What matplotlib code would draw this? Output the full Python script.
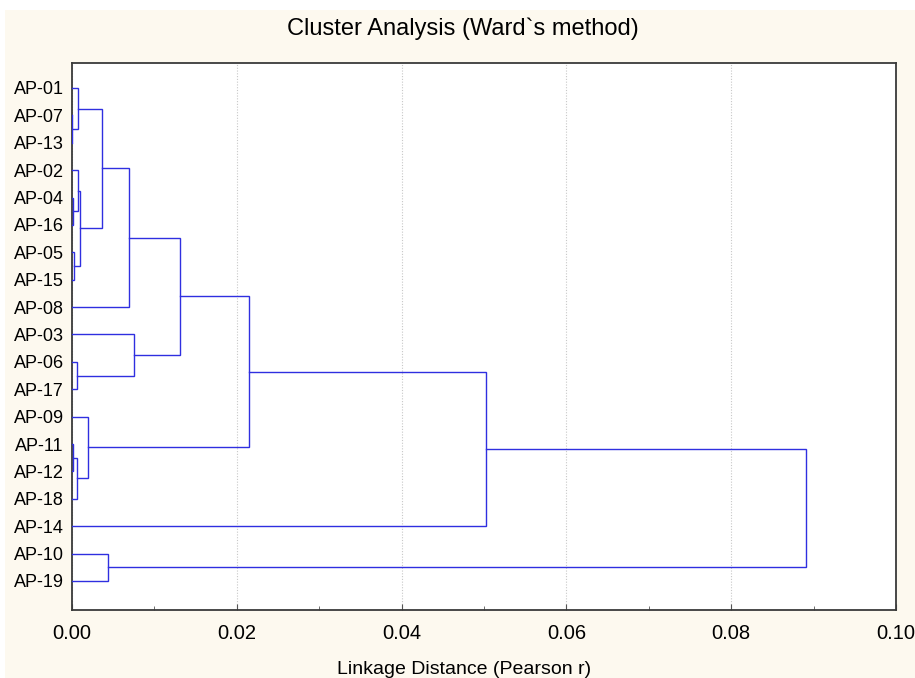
import matplotlib.pyplot as plt
import numpy as np
from matplotlib.patches import Rectangle

# leaves, top to bottom
labels = ["AP-01", "AP-07", "AP-13", "AP-02", "AP-04", "AP-16", "AP-05", "AP-15",
          "AP-08", "AP-03", "AP-06", "AP-17", "AP-09", "AP-11", "AP-12", "AP-18",
          "AP-14", "AP-10", "AP-19"]

# merges, scipy style: new cluster id = len(labels) + row index
merge_a = [1, 4, 6, 13, 10, 0, 3, 22, 25, 12, 24, 17, 29, 9, 31, 33, 34, 35]
merge_b = [2, 5, 7, 14, 11, 19, 20, 15, 21, 26, 27, 18, 8, 23, 32, 28, 16, 30]
merge_h = [0.00005, 0.00008, 0.0002, 0.0001, 0.0006, 0.0007, 0.0007, 0.0006,
           0.001, 0.0019, 0.0036, 0.0044, 0.0069, 0.0075, 0.0131, 0.0215,
           0.0502, 0.0891]

BG = "#fdf9ef"
LINE = "#2f2fe0"

plt.rcParams["font.family"] = ["Liberation Sans", "DejaVu Sans"]

fig = plt.figure(figsize=(9.15, 6.78), dpi=100, facecolor="white")
# cream panel with a thin white margin at top and left
fig.patches.append(Rectangle((5 / 915, 0), 1, 1 - 10 / 678, transform=fig.transFigure,
                             facecolor=BG, edgecolor="none", zorder=-10))
ax = fig.add_axes([0.0787, 0.1003, 0.9006, 0.8067])
ax.set_facecolor("white")

n = len(labels)
pos = {i: (float(i), 0.0) for i in range(n)}
for k, (a, b, h) in enumerate(zip(merge_a, merge_b, merge_h)):
    ya, xa = pos[a]
    yb, xb = pos[b]
    ax.plot([xa, h, h, xb], [ya, ya, yb, yb], color=LINE, lw=1.0,
            solid_joinstyle="miter", zorder=3)
    pos[n + k] = ((ya + yb) / 2, h)

ax.set_xlim(0, 0.10)
ax.set_ylim(n - 1 + 1.06, -0.91)
ax.set_xticks(np.arange(0, 0.1001, 0.02))
ax.set_xticks(np.arange(0, 0.1001, 0.01), minor=True)
ax.set_xticklabels([f"{v:.2f}" for v in np.arange(0, 0.1001, 0.02)])
ax.set_yticks(range(n))
ax.set_yticklabels(labels)
ax.tick_params(axis="x", which="major", direction="in", length=4, labelsize=14.5,
               pad=10, color="#555555")
ax.tick_params(axis="x", which="minor", direction="in", length=3, color="#555555")
ax.tick_params(axis="y", length=0, labelsize=13, pad=6)
ax.grid(axis="x", which="major", color="#c8c8c8", linestyle=(0, (1, 1.5)), lw=0.8)

for s in ax.spines.values():
    s.set_color("#3a3a3a")
    s.set_linewidth(1.3)

fig.text(0.506, 0.958, "Cluster Analysis (Ward`s method)", ha="center", va="center",
         fontsize=17)
fig.text(0.507, 0.012, "Linkage Distance (Pearson r)", ha="center", va="center",
         fontsize=14)

fig.savefig("out.png", dpi=100, facecolor="white")
